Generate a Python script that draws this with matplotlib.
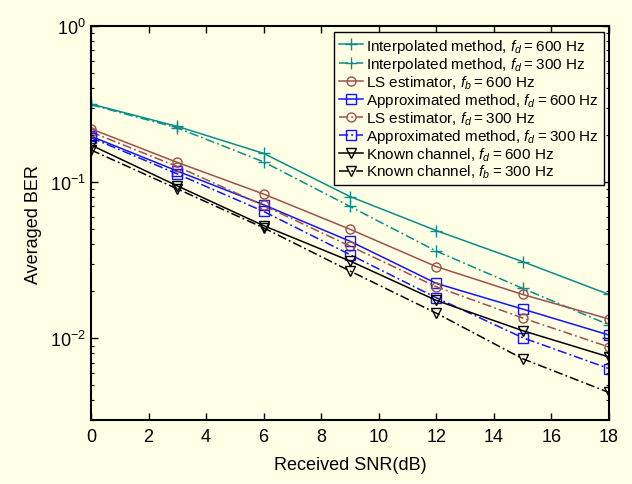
import numpy as np
import matplotlib
matplotlib.use('Agg')
import matplotlib.pyplot as plt
from matplotlib.ticker import LogLocator, FixedLocator

plt.rcParams['font.family'] = 'Liberation Sans'
plt.rcParams['mathtext.fontset'] = 'custom'
plt.rcParams['mathtext.rm'] = 'Liberation Sans'
plt.rcParams['mathtext.it'] = 'Liberation Sans:italic'
plt.rcParams['mathtext.default'] = 'regular'

# data
snr = [0, 3, 6, 9, 12, 15, 18]
interp_600 = [0.317, 0.228, 0.153, 0.081, 0.049, 0.031, 0.0191]
interp_300 = [0.314, 0.223, 0.135, 0.070, 0.0362, 0.0209, 0.0122]
ls_600 = [0.220, 0.134, 0.084, 0.050, 0.0288, 0.0191, 0.0133]
approx_600 = [0.197, 0.118, 0.0717, 0.0419, 0.0225, 0.0154, 0.0105]
ls_300 = [0.210, 0.126, 0.071, 0.039, 0.0214, 0.0135, 0.0088]
approx_300 = [0.193, 0.113, 0.065, 0.0344, 0.0182, 0.0101, 0.0064]
known_600 = [0.173, 0.0948, 0.0527, 0.0313, 0.0175, 0.0112, 0.0076]
known_300 = [0.161, 0.0907, 0.051, 0.027, 0.0145, 0.0074, 0.0045]

sp = '\u2009'
labels = [
    'Interpolated method, $\\mathit{f_d}$' + sp + '=' + sp + '600 Hz',
    'Interpolated method, $\\mathit{f_d}$' + sp + '=' + sp + '300 Hz',
    'LS estimator, $\\mathit{f_b}$' + sp + '=' + sp + '600 Hz',
    'Approximated method, $\\mathit{f_d}$' + sp + '=' + sp + '600 Hz',
    'LS estimator, $\\mathit{f_d}$' + sp + '=' + sp + '300 Hz',
    'Approximated method, $\\mathit{f_d}$' + sp + '=' + sp + '300 Hz',
    'Known channel, $\\mathit{f_d}$' + sp + '=' + sp + '600 Hz',
    'Known channel, $\\mathit{f_b}$' + sp + '=' + sp + '300 Hz',
]

teal = '#0a8c8c'
brown = '#a0504c'
blue = '#1414ff'
dashdot = (0, (6, 2, 1.2, 2))
bg = '#ffffe5'

series = [
    (interp_600, teal, '-', '+', 8),
    (interp_300, teal, dashdot, '+', 8),
    (ls_600, brown, '-', 'o', 6.5),
    (approx_600, blue, '-', 's', 6.5),
    (ls_300, brown, dashdot, 'o', 6.5),
    (approx_300, blue, dashdot, 's', 6.5),
    (known_600, 'black', '-', 'v', 7),
    (known_300, 'black', dashdot, 'v', 7),
]

fig = plt.figure(figsize=(6.32, 4.85), dpi=100, facecolor=bg)
ax = fig.add_axes([0.144, 0.132, 0.8196, 0.812])
ax.set_facecolor(bg)

for (vals, col, ls, mk, ms), lab in zip(series, labels):
    ax.plot(snr, vals, color=col, linestyle=ls, marker=mk, markersize=ms,
            markerfacecolor='none', markeredgecolor=col, linewidth=1.1,
            markeredgewidth=1.0, label=lab)

ax.set_yscale('log')
ax.set_xlim(0, 18)
ax.set_ylim(3e-3, 1)
ax.xaxis.set_major_locator(FixedLocator(np.arange(0, 19, 2)))
ax.yaxis.set_major_locator(LogLocator(base=10, numticks=10))
ax.yaxis.set_minor_locator(LogLocator(base=10, subs=np.arange(2, 10), numticks=10))

ax.tick_params(which='both', direction='in', top=True, right=True, labelsize=13)
ax.tick_params(which='major', length=5, width=1)
ax.tick_params(which='minor', length=2.5, width=0.8)
ax.tick_params(axis='x', pad=6)
for s in ax.spines.values():
    s.set_linewidth(1.5)

ax.set_xlabel('Received SNR(dB)', fontsize=13, labelpad=8)
ax.set_ylabel('Averaged BER', fontsize=13, labelpad=6)

leg = ax.legend(loc='upper right', bbox_to_anchor=(0.99, 0.985), fontsize=11,
                frameon=True, fancybox=False, framealpha=1, facecolor=bg,
                edgecolor='black', handlelength=1.6, handletextpad=0.2,
                labelspacing=0.02, borderpad=0.3, borderaxespad=0)
leg.get_frame().set_linewidth(1.0)

fig.savefig('out.png', dpi=100, facecolor=bg)
